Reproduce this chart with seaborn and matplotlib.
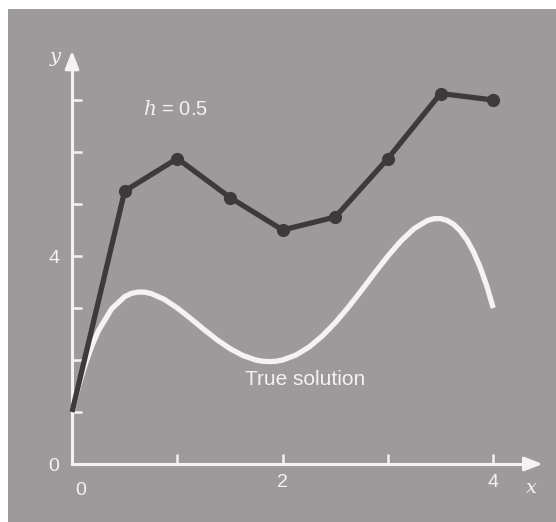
import matplotlib
matplotlib.use("Agg")
import matplotlib.pyplot as plt
import seaborn as sns
import pandas as pd

# Euler's method, h = 0.5
euler_x = [0.0, 0.5, 1.0, 1.5, 2.0, 2.5, 3.0, 3.5, 4.0]
euler_y = [1.0, 5.25, 5.875, 5.125, 4.5, 4.75, 5.875, 7.125, 7.0]

# True solution
true_x = [0.0, 0.0625, 0.125, 0.1875, 0.25, 0.375, 0.5, 0.5625, 0.625, 0.6875,
          0.75, 0.875, 1.0, 1.125, 1.25, 1.375, 1.5, 1.625, 1.75, 1.8125,
          1.875, 1.9375, 2.0, 2.125, 2.25, 2.375, 2.5, 2.625, 2.75, 2.875,
          3.0, 3.125, 3.25, 3.375, 3.4375, 3.5, 3.5625, 3.625, 3.6875, 3.75,
          3.8125, 3.875, 3.9375, 4.0]
true_y = [1.0, 1.493, 1.914, 2.268, 2.561, 2.982, 3.219, 3.279, 3.307, 3.305,
          3.279, 3.168, 3.0, 2.801, 2.592, 2.392, 2.219, 2.084, 1.998, 1.976,
          1.969, 1.977, 2.0, 2.094, 2.248, 2.459, 2.719, 3.017, 3.342, 3.676,
          4.0, 4.293, 4.529, 4.682, 4.717, 4.719, 4.684, 4.607, 4.483, 4.311,
          4.080, 3.789, 3.431, 3.0]

x_ticks = [1, 2, 3, 4]
x_ticklabels = ["", "2", "", "4"]
y_ticks = [0, 1, 2, 3, 4, 5, 6, 7]
y_ticklabels = ["0", "", "", "", "4", "", "", ""]

bg = "#9e999b"
fg = "#f4f2f2"
dark = "#3e393a"

sns.set_theme(style="white")
plt.rcParams["font.family"] = ["Liberation Sans", "DejaVu Sans"]
plt.rcParams["mathtext.fontset"] = "dejavuserif"

fig = plt.figure(figsize=(5.56, 5.22), dpi=100, facecolor="white")
ax = fig.add_axes([8 / 556, 0, 548 / 556, 513 / 522])
ax.set_facecolor(bg)

df_true = pd.DataFrame({"x": true_x, "y": true_y})
df_euler = pd.DataFrame({"x": euler_x, "y": euler_y})

sns.lineplot(data=df_true, x="x", y="y", ax=ax, color=fg, lw=3.8,
             solid_capstyle="butt", solid_joinstyle="round", zorder=3)
sns.lineplot(data=df_euler, x="x", y="y", ax=ax, color=dark, lw=3.8,
             marker="o", markersize=9.5, markeredgewidth=0,
             markevery=list(range(1, len(euler_x))),
             solid_capstyle="butt", solid_joinstyle="round", zorder=4)

ax.set_xlim(-0.608, 4.596)
ax.set_ylim(-1.115, 8.75)

for s in ["top", "right"]:
    ax.spines[s].set_visible(False)
for s in ["left", "bottom"]:
    ax.spines[s].set_position(("data", 0))
    ax.spines[s].set_color(fg)
    ax.spines[s].set_linewidth(2.2)
    ax.spines[s].set_zorder(2)
ax.spines["bottom"].set_bounds(0, 4.35)
ax.spines["left"].set_bounds(0, 7.7)

ax.annotate("", xy=(4.47, 0), xytext=(4.3, 0),
            arrowprops=dict(arrowstyle="-|>,head_length=0.9,head_width=0.35",
                            color=fg, lw=2.2, shrinkA=0, shrinkB=0))
ax.annotate("", xy=(0, 7.95), xytext=(0, 7.6),
            arrowprops=dict(arrowstyle="-|>,head_length=0.9,head_width=0.35",
                            color=fg, lw=2.2, shrinkA=0, shrinkB=0))

ax.set_xticks(x_ticks)
ax.set_xticklabels(x_ticklabels)
ax.set_yticks(y_ticks)
ax.set_yticklabels(y_ticklabels)
ax.tick_params(axis="both", direction="in", length=7.5, width=1.8,
               color=fg, labelcolor=fg, labelsize=14,
               bottom=True, left=True)
ax.tick_params(axis="x", pad=7)
ax.tick_params(axis="y", pad=9)

ax.set_xlabel("")
ax.set_ylabel("")

ax.text(0.08, -0.5, "0", color=fg, fontsize=14, ha="center", va="center")
ax.text(-0.16, 7.82, "y", color=fg, fontsize=14, style="italic",
        family="DejaVu Serif", ha="center", va="center")
ax.text(4.36, -0.47, "x", color=fg, fontsize=14, style="italic",
        family="DejaVu Serif", ha="center", va="center")
ax.text(0.98, 6.82, "$h$ = 0.5", color=fg, fontsize=14.5,
        ha="center", va="center")
ax.text(2.21, 1.62, "True solution", color=fg, fontsize=15,
        ha="center", va="center")

ax.grid(False)
fig.savefig("out.png", dpi=100, facecolor="white")
